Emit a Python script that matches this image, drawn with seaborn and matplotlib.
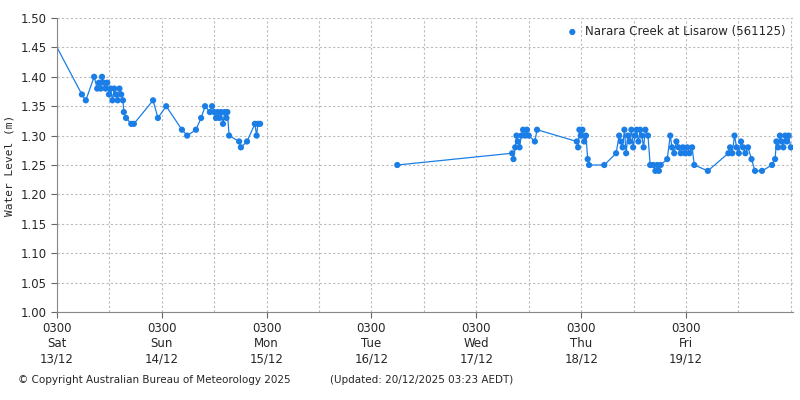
import matplotlib
matplotlib.use("Agg")
import matplotlib.pyplot as plt
import seaborn as sns
import pandas as pd
import numpy as np

# hours since Sat 13/12 03:00, water level (m); segment id splits the gap in the record
hours_a = [0, 5.7, 6.6, 8.5, 9.2, 9.6, 10.0, 10.3, 10.7, 11.1, 11.5, 11.9, 12.3, 12.7, 13.1, 13.5, 13.9, 14.3, 14.7,
           15.1, 15.3, 15.8, 17.0, 17.6, 22.0, 23.1, 25.0, 28.6, 29.8, 31.8, 33.0, 33.9, 35.0, 35.5, 36.0, 36.4,
           36.8, 37.2, 37.6, 38.0, 38.4, 38.8, 39.0, 39.4, 41.7, 42.1, 43.5, 45.3, 45.7, 46.0, 46.5]
level_a = [1.45, 1.37, 1.36, 1.40, 1.38, 1.39, 1.38, 1.40, 1.39, 1.38, 1.39, 1.37, 1.38, 1.36, 1.38, 1.37, 1.36, 1.38,
           1.37, 1.36, 1.34, 1.33, 1.32, 1.32, 1.36, 1.33, 1.35, 1.31, 1.30, 1.31, 1.33, 1.35, 1.34, 1.35, 1.34,
           1.33, 1.34, 1.33, 1.34, 1.32, 1.34, 1.33, 1.34, 1.30, 1.29, 1.28, 1.29, 1.32, 1.30, 1.32, 1.32]
hours_c = [77.9, 104.2, 104.5, 104.9, 105.2, 105.5, 105.9, 106.3, 106.7, 107.2, 107.6, 108.0, 109.4, 109.9,
           119.0, 119.3, 119.6, 119.9, 120.3, 120.7, 121.1, 121.5, 121.8, 125.3, 128.0, 128.7, 129.1, 129.5,
           129.9, 130.3, 130.7, 131.1, 131.5, 131.9, 132.3, 132.7, 133.1, 133.5, 133.9, 134.3, 134.7, 135.3,
           135.8, 136.5, 137.0, 137.4, 137.8, 138.2, 139.7, 140.4, 140.8, 141.3, 141.8, 142.3, 142.8, 143.3,
           143.8, 144.3, 144.8, 145.4, 145.9, 149.0, 153.7, 154.1, 154.6, 155.1, 155.6, 156.1, 156.6, 157.1,
           157.6, 158.2, 159.0, 159.8, 161.4, 163.7, 164.4, 164.7, 165.1, 165.5, 165.9, 166.3, 166.7, 167.1,
           167.5, 168.0]
level_c = [1.25, 1.27, 1.26, 1.28, 1.30, 1.29, 1.28, 1.30, 1.31, 1.30, 1.31, 1.30, 1.29, 1.31,
           1.29, 1.28, 1.31, 1.30, 1.31, 1.29, 1.30, 1.26, 1.25, 1.25, 1.27, 1.30, 1.29, 1.28,
           1.31, 1.27, 1.30, 1.29, 1.31, 1.28, 1.30, 1.31, 1.29, 1.31, 1.30, 1.28, 1.31, 1.30,
           1.25, 1.25, 1.24, 1.25, 1.24, 1.25, 1.26, 1.30, 1.28, 1.27, 1.29, 1.28, 1.27, 1.28,
           1.27, 1.28, 1.27, 1.28, 1.25, 1.24, 1.27, 1.28, 1.27, 1.30, 1.28, 1.27, 1.29, 1.28,
           1.27, 1.28, 1.26, 1.24, 1.24, 1.25, 1.26, 1.29, 1.28, 1.30, 1.29, 1.28, 1.30, 1.29,
           1.30, 1.28]

tick_labels = ["0300\nSat\n13/12", "0300\nSun\n14/12", "0300\nMon\n15/12", "0300\nTue\n16/12",
               "0300\nWed\n17/12", "0300\nThu\n18/12", "0300\nFri\n19/12"]

df = pd.DataFrame({"hours": hours_a + hours_c, "level": level_a + level_c,
                   "seg": ["a"] * len(hours_a) + ["c"] * len(hours_c)})

color = "#1a7ee6"
sns.set_style("white")
plt.rcParams["font.family"] = ["DejaVu Sans"]
fig = plt.figure(figsize=(8, 4), dpi=100)
ax = fig.add_axes([57 / 800, 88 / 400, 736 / 800, 294 / 400])

sns.lineplot(data=df, x="hours", y="level", units="seg", ax=ax, color=color, linewidth=0.9,
             sort=False, estimator=None)
sns.scatterplot(data=df[df["hours"] > 0], x="hours", y="level", ax=ax, color=color, s=20,
                edgecolor="none", label="Narara Creek at Lisarow (561125)", zorder=3)

ax.set_xlim(0, 168.5)
ax.set_ylim(1.0, 1.5)
ax.set_xticks(np.arange(7) * 24)
ax.set_xticklabels(tick_labels, fontsize=8.5)
ax.set_yticks(np.arange(1.0, 1.501, 0.05))
ax.set_yticklabels([f"{v:.2f}" for v in np.arange(1.0, 1.501, 0.05)], fontsize=8.5)
ax.set_xticks(np.arange(0, 169, 12), minor=True)
ax.grid(True, which="both", linestyle=(0, (2, 2)), color="#bbbbbb", linewidth=0.8)
ax.set_xlabel("")
ax.set_ylabel("Water Level (m)", fontsize=8, family="DejaVu Sans Mono")
ax.tick_params(axis="both", which="major", length=4, color="#666666", direction="out", left=True, bottom=True)
for s in ax.spines.values():
    s.set_color("#888888")
ax.spines["top"].set_visible(False)
ax.spines["right"].set_visible(False)
ax.legend(loc="upper right", frameon=False, fontsize=8.5, handletextpad=0.1, borderaxespad=0.2)

fig.text(18 / 800, 1 - 380 / 400, "© Copyright Australian Bureau of Meteorology 2025", fontsize=7.5, va="center")
fig.text(330 / 800, 1 - 380 / 400, "(Updated: 20/12/2025 03:23 AEDT)", fontsize=7.5, va="center")

fig.savefig("out.png", dpi=100)
